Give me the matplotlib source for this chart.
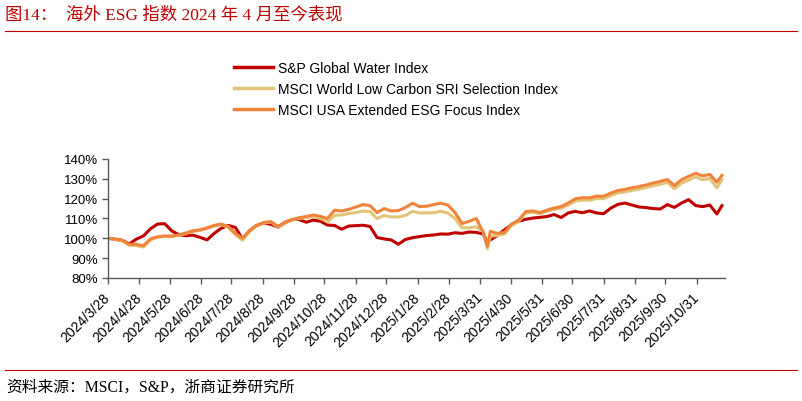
import matplotlib
matplotlib.use("Agg")
import matplotlib.pyplot as plt
from matplotlib.lines import Line2D
import pandas as pd

dates = [
    "2024-03-28", "2024-04-04", "2024-04-11", "2024-04-18", "2024-04-25",
    "2024-05-02", "2024-05-09", "2024-05-16", "2024-05-23", "2024-05-30",
    "2024-06-06", "2024-06-13", "2024-06-20", "2024-06-27",
    "2024-07-04", "2024-07-11", "2024-07-18", "2024-07-25",
    "2024-08-01", "2024-08-08", "2024-08-15", "2024-08-22", "2024-08-29",
    "2024-09-05", "2024-09-12", "2024-09-19", "2024-09-26",
    "2024-10-03", "2024-10-10", "2024-10-17", "2024-10-24", "2024-10-31",
    "2024-11-07", "2024-11-14", "2024-11-21", "2024-11-28",
    "2024-12-05", "2024-12-12", "2024-12-19", "2024-12-26",
    "2025-01-02", "2025-01-09", "2025-01-16", "2025-01-23", "2025-01-30",
    "2025-02-06", "2025-02-13", "2025-02-20", "2025-02-27",
    "2025-03-06", "2025-03-13", "2025-03-20", "2025-03-27",
    "2025-04-03", "2025-04-07", "2025-04-10", "2025-04-17", "2025-04-24",
    "2025-05-01", "2025-05-08", "2025-05-15", "2025-05-22", "2025-05-29",
    "2025-06-05", "2025-06-12", "2025-06-19", "2025-06-26",
    "2025-07-03", "2025-07-10", "2025-07-17", "2025-07-24", "2025-07-31",
    "2025-08-07", "2025-08-14", "2025-08-21", "2025-08-28",
    "2025-09-04", "2025-09-11", "2025-09-18", "2025-09-25",
    "2025-10-02", "2025-10-09", "2025-10-16", "2025-10-23", "2025-10-30",
    "2025-11-06", "2025-11-13", "2025-11-20", "2025-11-25",
]

sp_water = [
    100, 99.6, 99, 97.2, 99.6, 101.2, 104.8, 107.2, 107.4, 103.8,
    101.8, 101.3, 101.6, 100.5, 99.2, 102.5, 105.1, 106.5, 105.5, 99.6,
    103.8, 106.5, 107.7, 107.1, 105.6, 107.8, 109.5, 109.5, 108.1, 109.2,
    108.6, 106.7, 106.5, 104.6, 106.2, 106.4, 106.6, 106, 100.4, 99.7,
    99.2, 97, 99.4, 100.3, 100.9, 101.4, 101.7, 102.2, 102.1, 102.8,
    102.5, 103.2, 103, 102.2, 98.2, 99.2, 101.5, 104.3, 106.8, 108.6,
    109.6, 110.2, 110.6, 111, 112, 110.5, 112.8, 113.6, 112.9, 113.8,
    112.8, 112.4, 115.2, 117.1, 117.8, 116.8, 115.8, 115.5, 115, 114.8,
    117, 115.6, 117.8, 119.5, 116.5, 116, 116.8, 112.3, 116.5,
]

msci_low_carbon = [
    100, 99.5, 98.8, 96.5, 96.3, 95.6, 99.2, 100.5, 100.9, 100.9,
    101.4, 102.4, 103.5, 104, 105, 106.2, 106.9, 105.5, 101.8, 99,
    103.5, 106.1, 107.7, 108.2, 105.6, 107.9, 109.2, 110, 110.5, 111,
    110.2, 108.2, 111.6, 111.8, 112.5, 113, 113.7, 113.5, 110, 111.5,
    110.8, 110.8, 111.5, 113.6, 112.8, 112.8, 112.9, 113.6, 112.8, 110,
    105.3, 105.3, 105.8, 103.5, 94.8, 101, 101.5, 102.2, 106.5, 108.6,
    112.8, 113.2, 112.4, 113.6, 114.6, 115.2, 116.8, 118.8, 119.3, 119.2,
    120.1, 120, 121.6, 122.9, 123.4, 124.2, 124.8, 125.6, 126.5, 127.2,
    128.2, 125, 127.8, 129.4, 131, 129.5, 130.2, 125.5, 129.5,
]

msci_usa_esg = [
    100, 99.6, 99, 97, 97, 96.3, 99.7, 100.8, 101.2, 101.2,
    101.7, 102.7, 103.8, 104.3, 105.3, 106.5, 107.2, 106, 102.5, 100,
    104, 106.5, 108, 108.5, 106, 108.2, 109.5, 110.4, 111, 111.8,
    111.1, 110, 114.2, 113.8, 114.6, 115.8, 117, 116.5, 113, 115,
    113.8, 114, 115.5, 117.7, 116, 116.2, 117, 117.7, 116.8, 113,
    107.5, 108.5, 110, 103, 96, 103.5, 102.5, 103, 107.2, 109.2,
    113.5, 113.8, 113, 114.2, 115.3, 116, 117.8, 119.9, 120.5, 120.4,
    121.3, 121.2, 122.8, 124.1, 124.7, 125.5, 126.1, 126.9, 127.9, 128.7,
    129.7, 126.6, 129.6, 131.2, 132.8, 131.5, 132.2, 128.3, 131.8,
]

series_names = [
    "S&P Global Water Index",
    "MSCI World Low Carbon SRI Selection Index",
    "MSCI USA Extended ESG Focus Index",
]
series_colors = ["#C00000", "#E3C477", "#F0843C"]

tick_dates = [
    "2024-03-28", "2024-04-28", "2024-05-28", "2024-06-28", "2024-07-28",
    "2024-08-28", "2024-09-28", "2024-10-28", "2024-11-28", "2024-12-28",
    "2025-01-28", "2025-02-28", "2025-03-31", "2025-04-30", "2025-05-31",
    "2025-06-30", "2025-07-31", "2025-08-31", "2025-09-30", "2025-10-31",
]
y_ticks = [80, 90, 100, 110, 120, 130, 140]

title_text = "图14：  海外 ESG 指数 2024 年 4 月至今表现"
source_text = "资料来源：MSCI，S&P，浙商证券研究所"

plt.rcParams["font.family"] = ["Liberation Sans", "Noto Sans CJK SC", "DejaVu Sans"]

fig = plt.figure(figsize=(8.02, 4.02), dpi=100)
ax = fig.add_axes([108 / 802, 1 - 279 / 402, (725 - 108) / 802, (279 - 160) / 402])

x = pd.to_datetime(dates)
for vals, name, col in zip([sp_water, msci_low_carbon, msci_usa_esg], series_names, series_colors):
    ax.plot(x, vals, color=col, lw=2.2, label=name, solid_joinstyle="round")

ax.set_ylim(80, 140)
ax.set_yticks(y_ticks)
ax.set_yticklabels([f"{v}%" for v in y_ticks])
ax.set_xlim(pd.Timestamp("2024-03-28"), pd.Timestamp("2025-11-28"))
td = pd.to_datetime(tick_dates)
ax.set_xticks(td)
ax.set_xticklabels([f"{d.year}/{d.month}/{d.day}" for d in td], rotation=45,
                   ha="right", va="center", rotation_mode="anchor", fontsize=10)

for s in ["top", "right"]:
    ax.spines[s].set_visible(False)
for s in ["left", "bottom"]:
    ax.spines[s].set_color("#595959")
    ax.spines[s].set_linewidth(1.0)
ax.tick_params(axis="both", direction="out", length=4, width=1.0, color="#595959",
               labelcolor="black")
ax.tick_params(axis="y", labelsize=9.5, pad=3)
ax.tick_params(axis="x", pad=8)

handles = [Line2D([0], [0], color=c, lw=2.5) for c in series_colors]
fig.legend(handles, series_names, loc="upper left", bbox_to_anchor=(234 / 802, 1 - 62 / 402),
           frameon=False, fontsize=10, handlelength=2.8, handletextpad=0.35,
           labelspacing=0.5, borderaxespad=0, borderpad=0)

fig.text(5 / 802, 1 - 15 / 402, title_text, color="#C00000", fontsize=12.5,
         va="center", ha="left", family=["Liberation Serif", "Noto Sans CJK SC"])
fig.add_artist(Line2D([5 / 802, 797 / 802], [1 - 31.5 / 402, 1 - 31.5 / 402],
                      color="#C00000", lw=0.8))
fig.add_artist(Line2D([5 / 802, 797 / 802], [1 - 371 / 402, 1 - 371 / 402],
                      color="#C00000", lw=0.8))
fig.text(6 / 802, 1 - 388 / 402, source_text, color="black", fontsize=11.3,
         va="center", ha="left", family=["Liberation Serif", "Noto Sans CJK SC"])

fig.savefig("out.png", dpi=100)
